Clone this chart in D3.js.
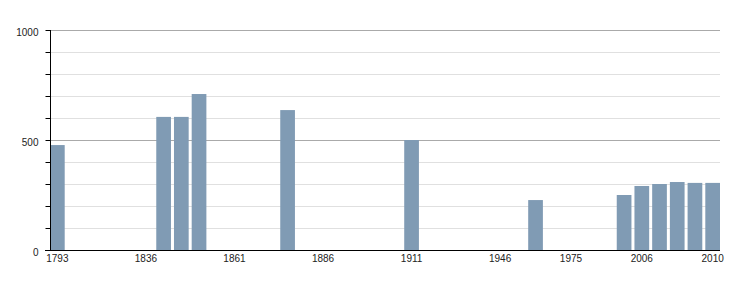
<!DOCTYPE html>
<html><head><meta charset="utf-8">
<script src="https://cdn.jsdelivr.net/npm/d3@7"></script>
<style>body{margin:0;background:#fff}svg{display:block}</style>
</head><body><svg id="c" width="750" height="300"></svg>
<script>
const years = ["1793","1800","1806","1821","1831","1836","1841","1846","1851","1856","1861","1866","1872","1876","1881","1886","1891","1896","1901","1906","1911","1921","1926","1931","1936","1946","1954","1962","1968","1975","1982","1990","1999","2006","2007","2008","2009","2010"];
const population = [477,null,null,null,null,null,605,605,709,null,null,null,null,636,null,null,null,null,null,null,500,null,null,null,null,null,null,227,null,null,null,null,250,291,300,309,305,305];
const xTickLabels = ["1793","1836","1861","1886","1911","1946","1975","2006","2010"];
const yTickLabels = [0,500,1000];

(function(){
const svg = d3.select("#c");
const mL = 50, mR = 720, mT = 30, mB = 250;
const x = d3.scaleBand().domain(years).range([mL, mR]).paddingInner(0.17).paddingOuter(0);
const y = d3.scaleLinear().domain([0,1000]).range([mB, mT]);

// grid
const minor = d3.range(100,1000,100).filter(v => v % 500 !== 0);
svg.append("g").selectAll("line").data(minor).join("line")
  .attr("x1", mL).attr("x2", mR).attr("y1", d=>y(d)+0.5).attr("y2", d=>y(d)+0.5)
  .attr("stroke", "#e0e0e0").attr("stroke-width",1);
svg.append("g").selectAll("line").data([500,1000]).join("line")
  .attr("x1", mL).attr("x2", mR).attr("y1", d=>y(d)+0.5).attr("y2", d=>y(d)+0.5)
  .attr("stroke", "#aaaaaa").attr("stroke-width",1);

// bars
svg.append("g").selectAll("rect").data(years.map((yr,i)=>({yr, v: population[i]})).filter(d=>d.v!=null))
  .join("rect")
  .attr("x", d=>x(d.yr)).attr("width", x.bandwidth())
  .attr("y", d=>y(d.v)).attr("height", d=>y(0)-y(d.v))
  .attr("fill", "#809bb4");

// y axis
const yAxis = d3.axisLeft(y).tickValues(d3.range(0,1001,100)).tickSize(5)
  .tickFormat(d => yTickLabels.includes(d) ? d : "");
const gy = svg.append("g").attr("transform", `translate(${mL+0.5},0)`).call(yAxis);
gy.select(".domain").attr("d", `M0,${mT}V${mB}`).attr("stroke","#000");
gy.selectAll(".tick line").attr("stroke","#000");
gy.selectAll(".tick text").attr("x",-12).attr("dy","0.5em").attr("fill","#222")
  .style("font-family","'Liberation Sans', Arial, sans-serif").style("font-size","10px");
gy.selectAll(".tick").filter(d=>d===0).select("line").remove();

// x axis
const xAxis = d3.axisBottom(x).tickSize(0).tickValues(xTickLabels);
const gx = svg.append("g").attr("transform", `translate(0,${mB+0.5})`).call(xAxis);
gx.select(".domain").attr("d", `M${mL-5},0H${mR}`).attr("stroke","#000");
gx.selectAll(".tick text").attr("y",4).attr("fill","#222")
  .style("font-family","'Liberation Sans', Arial, sans-serif").style("font-size","10px");
})();
</script></body></html>
